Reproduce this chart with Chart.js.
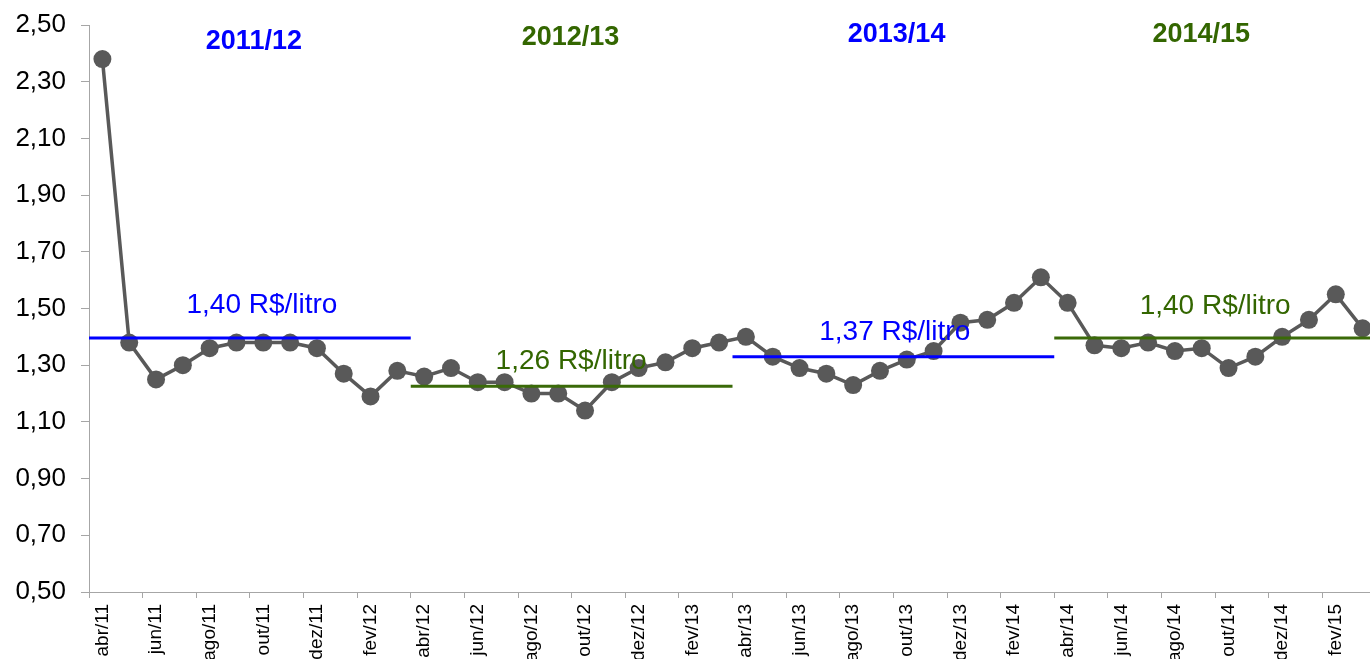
<!DOCTYPE html>
<html>
<head>
<meta charset="utf-8">
<script src="https://cdn.jsdelivr.net/npm/chart.js@4"></script>
<style>
  html, body { margin: 0; padding: 0; background: #ffffff; overflow: hidden; }
  #wrap { position: absolute; left: 0; top: 0; width: 1385px; height: 659px; }
</style>
</head>
<body>
<div id="wrap"><canvas id="c" width="1385" height="659"></canvas></div>
<script>
// ---- data ----
const months = [
  'abr/11','mai/11','jun/11','jul/11','ago/11','set/11','out/11','nov/11','dez/11','jan/12','fev/12','mar/12',
  'abr/12','mai/12','jun/12','jul/12','ago/12','set/12','out/12','nov/12','dez/12','jan/13','fev/13','mar/13',
  'abr/13','mai/13','jun/13','jul/13','ago/13','set/13','out/13','nov/13','dez/13','jan/14','fev/14','mar/14',
  'abr/14','mai/14','jun/14','jul/14','ago/14','set/14','out/14','nov/14','dez/14','jan/15','fev/15','mar/15'
];
const prices = [
  2.38, 1.38, 1.25, 1.30, 1.36, 1.38, 1.38, 1.38, 1.36, 1.27, 1.19, 1.28,
  1.26, 1.29, 1.24, 1.24, 1.20, 1.20, 1.14, 1.24, 1.29, 1.31, 1.36, 1.38,
  1.40, 1.33, 1.29, 1.27, 1.23, 1.28, 1.32, 1.35, 1.45, 1.46, 1.52, 1.61,
  1.52, 1.37, 1.36, 1.38, 1.35, 1.36, 1.29, 1.33, 1.40, 1.46, 1.55, 1.43
];
const seasons = ['2011/12', '2012/13', '2013/14', '2014/15'];
const seasonStart = [0, 12, 24, 36];
const seasonAvgLevel = [1.396, 1.226, 1.330, 1.396];
const seasonAvgText = ['1,40 R$/litro', '1,26 R$/litro', '1,37 R$/litro', '1,40 R$/litro'];
const yTicks = [0.50, 0.70, 0.90, 1.10, 1.30, 1.50, 1.70, 1.90, 2.10, 2.30, 2.50];

// ---- styles ----
const BLUE = '#0000ff';
const GREEN_TXT = '#336600';
const GREEN_LINE = '#3a6a08';
const seasonColor = [BLUE, GREEN_TXT, BLUE, GREEN_TXT];
const seasonLineColor = [BLUE, GREEN_LINE, BLUE, GREEN_LINE];
// label placement (x in month-index units, y in value units)
const seasonTitlePos = [[5.65, 2.44], [17.46, 2.456], [29.62, 2.465], [40.98, 2.465]];
const seasonAvgTextPos = [[5.95, 1.512], [17.48, 1.314], [29.55, 1.416], [41.5, 1.508]];
const AXIS_GRAY = '#a6a6a6';
const FONT = "'Liberation Sans', Arial, sans-serif";

const avgDatasets = seasons.map((s, i) => ({
  label: 'media ' + s,
  xAxisID: 'x2',
  data: [
    { x: seasonStart[i] - 0.5, y: seasonAvgLevel[i] },
    { x: seasonStart[i] + 11.5, y: seasonAvgLevel[i] }
  ],
  borderColor: seasonLineColor[i],
  borderWidth: 3,
  pointRadius: 0,
  fill: false,
  order: 1
}));

const textPlugin = {
  id: 'seasonText',
  afterDatasetsDraw(chart) {
    const ctx = chart.ctx;
    const xs = chart.scales.x2, ys = chart.scales.y;
    ctx.save();
    ctx.textAlign = 'center';
    ctx.textBaseline = 'middle';
    seasons.forEach((s, i) => {
      ctx.fillStyle = seasonColor[i];
      ctx.font = "bold 27px " + FONT;
      ctx.fillText(s, xs.getPixelForValue(seasonTitlePos[i][0]), ys.getPixelForValue(seasonTitlePos[i][1]));
      ctx.font = "28px " + FONT;
      ctx.fillText(seasonAvgText[i], xs.getPixelForValue(seasonAvgTextPos[i][0]), ys.getPixelForValue(seasonAvgTextPos[i][1]));
    });
    ctx.restore();
  }
};

new Chart(document.getElementById('c'), {
  type: 'line',
  data: {
    labels: months,
    datasets: [
      {
        label: 'Preço',
        xAxisID: 'x',
        data: prices,
        borderColor: '#595959',
        backgroundColor: '#595959',
        borderWidth: 3.5,
        pointRadius: 9,
        pointBorderWidth: 0,
        pointBackgroundColor: '#595959',
        tension: 0,
        clip: false,
        order: 2
      },
      ...avgDatasets
    ]
  },
  options: {
    responsive: false,
    animation: false,
    devicePixelRatio: 1,
    layout: { padding: { top: 25, right: 0, left: 0, bottom: 0 } },
    plugins: { legend: { display: false }, tooltip: { enabled: false } },
    scales: {
      x: {
        type: 'category',
        offset: true,
        grid: {
          offset: true,
          drawOnChartArea: false,
          tickLength: 6,
          color: (c) => (c.index !== undefined && c.index % 2 === 0) ? AXIS_GRAY : 'rgba(0,0,0,0)'
        },
        border: { color: AXIS_GRAY, width: 1 },
        ticks: {
          autoSkip: false,
          minRotation: 90,
          maxRotation: 90,
          padding: 6,
          color: '#000000',
          font: { family: FONT, size: 19 },
          callback: function (v, i) { return i % 2 === 0 ? this.getLabelForValue(v) : ''; }
        },
        afterFit: (s) => { s.height = 67; s.paddingLeft = 0; s.paddingRight = 0; }
      },
      x2: {
        type: 'linear',
        display: false,
        min: -0.5,
        max: 47.5
      },
      y: {
        min: 0.5,
        max: 2.5,
        grid: { drawOnChartArea: false, tickLength: 8, color: AXIS_GRAY },
        border: { color: AXIS_GRAY, width: 1 },
        afterBuildTicks: (s) => { s.ticks = yTicks.map(v => ({ value: v })); },
        ticks: {
          padding: 15,
          color: '#000000',
          font: { family: FONT, size: 26 },
          callback: (v) => Number(v).toFixed(2).replace('.', ',')
        },
        afterFit: (s) => { s.width = 89; s.paddingTop = 0; s.paddingBottom = 0; }
      }
    }
  },
  plugins: [textPlugin]
});
</script>
</body>
</html>
